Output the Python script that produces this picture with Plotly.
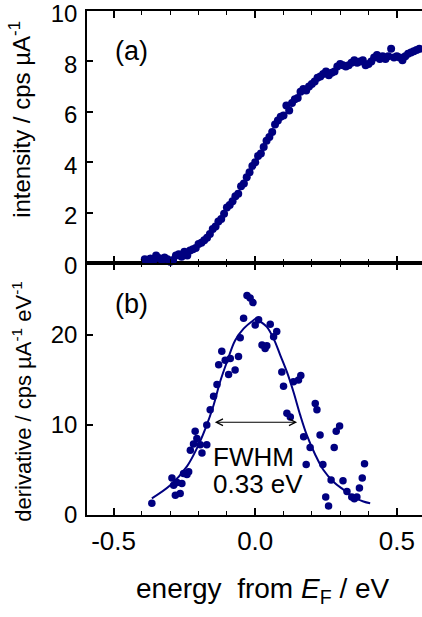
import plotly.graph_objects as go

# ---- data ----
top_x = [-0.39, -0.38, -0.37, -0.36, -0.35, -0.34, -0.33, -0.32, -0.31, -0.30,
         -0.29, -0.28, -0.27, -0.26, -0.25, -0.24, -0.23, -0.22, -0.21, -0.20,
         -0.19, -0.18, -0.17, -0.16, -0.15, -0.14, -0.13, -0.12, -0.11, -0.10,
         -0.09, -0.08, -0.07, -0.06, -0.05, -0.04, -0.03, -0.02, -0.01, 0.00,
         0.01, 0.02, 0.03, 0.04, 0.05, 0.06, 0.07, 0.08, 0.09, 0.10,
         0.11, 0.12, 0.13, 0.14, 0.15, 0.16, 0.17, 0.18, 0.19, 0.20,
         0.21, 0.22, 0.23, 0.24, 0.25, 0.26, 0.27, 0.28, 0.29, 0.30,
         0.31, 0.32, 0.33, 0.34, 0.35, 0.36, 0.37, 0.38, 0.39, 0.40,
         0.41, 0.42, 0.43, 0.44, 0.45, 0.46, 0.47, 0.48, 0.49, 0.50,
         0.51, 0.52, 0.53, 0.54, 0.55, 0.56, 0.57, 0.58]
top_y = [0.15, 0.12, 0.18, 0.10, 0.30, 0.20, 0.12, 0.22, 0.15, 0.05,
         0.12, 0.30, 0.35, 0.25, 0.45, 0.30, 0.50, 0.55, 0.60, 0.75,
         0.80, 0.90, 1.00, 1.15, 1.35, 1.45, 1.65, 1.75, 1.95, 2.20,
         2.30, 2.45, 2.65, 2.75, 3.05, 3.15, 3.40, 3.60, 3.85, 4.00,
         4.25, 4.35, 4.60, 4.85, 5.00, 5.20, 5.50, 5.65, 5.80, 5.85,
         6.25, 6.05, 6.35, 6.50, 6.55, 6.80, 6.90, 6.85, 7.00, 7.10,
         7.20, 7.35, 7.40, 7.50, 7.60, 7.45, 7.55, 7.60, 7.80, 7.90,
         7.85, 7.80, 7.85, 7.95, 8.05, 7.95, 8.00, 8.05, 7.85, 7.90,
         8.00, 8.15, 8.25, 8.10, 8.20, 8.10, 8.20, 8.50, 8.15, 8.20,
         8.15, 8.05, 8.20, 8.30, 8.35, 8.40, 8.45, 8.50]

deriv_x = [-0.365, -0.294, -0.288, -0.282, -0.276, -0.265, -0.259, -0.253, -0.241, -0.235,
           -0.229, -0.218, -0.212, -0.206, -0.194, -0.188, -0.171, -0.171, -0.159, -0.147,
           -0.135, -0.129, -0.118, -0.106, -0.094, -0.088, -0.071, -0.059, -0.053, -0.041,
           -0.029, -0.018, -0.008, 0.000, 0.012, 0.024, 0.035, 0.041, 0.053, 0.065,
           0.076, 0.094, 0.100, 0.112, 0.124, 0.135, 0.153, 0.161, 0.171, 0.180,
           0.194, 0.212, 0.218, 0.229, 0.239, 0.249, 0.259, 0.268, 0.279, 0.286,
           0.298, 0.310, 0.324, 0.341, 0.350, 0.359, 0.368, 0.378, 0.386]
deriv_y = [1.3, 4.1, 3.3, 2.2, 3.6, 2.4, 3.5, 4.6, 4.5, 4.8,
           7.2, 7.9, 9.3, 8.5, 7.8, 6.9, 7.8, 10.0, 11.7, 13.2,
           14.5, 16.7, 18.2, 17.2, 15.6, 17.4, 16.1, 17.6, 19.7, 21.85,
           24.4, 24.1, 23.6, 21.1, 21.7, 18.9, 18.5, 18.8, 21.2, 19.8,
           20.4, 15.9, 14.3, 11.3, 10.9, 14.8, 15.0, 15.5, 8.7, 5.6,
           7.5, 12.4, 11.7, 8.9, 5.6, 2.0, 1.0, 3.9, 7.5, 9.3,
           9.9, 3.8, 2.6, 2.0, 1.8, 2.0, 3.0, 4.1, 5.7]

fit_x = [-0.365, -0.300, -0.241, -0.206, -0.176, -0.147, -0.124, -0.100, -0.071, -0.041,
         -0.012, 0.006, 0.018, 0.041, 0.065, 0.088, 0.112, 0.135, 0.159, 0.182,
         0.212, 0.241, 0.276, 0.312, 0.347, 0.382, 0.406]
fit_y = [1.85, 3.3, 5.4, 7.4, 9.6, 12.2, 14.8, 17.0, 19.4, 20.7,
         21.5, 21.85, 21.5, 20.9, 19.6, 17.8, 15.9, 13.7, 11.1, 8.9,
         6.7, 5.0, 3.7, 2.8, 2.0, 1.5, 1.3]

fwhm_left, fwhm_right, half_max = -0.148, 0.148, 10.3

x_tickvals = [-0.5, 0.0, 0.5]
x_ticktext = ["-0.5", "0.0", "0.5"]
top_tickvals = [0, 2, 4, 6, 8, 10]
bottom_tickvals = [0, 10, 20]

# ---- styling ----
navy = "#000080"
font_family = "Liberation Sans, Arial, sans-serif"

fig = go.Figure()
fig.add_trace(go.Scatter(x=top_x, y=top_y, mode="markers", xaxis="x2", yaxis="y2",
                         marker=dict(color=navy, size=8), showlegend=False, cliponaxis=False))
fig.add_trace(go.Scatter(x=deriv_x, y=deriv_y, mode="markers", xaxis="x", yaxis="y",
                         marker=dict(color=navy, size=7.5), showlegend=False))
fig.add_trace(go.Scatter(x=fit_x, y=fit_y, mode="lines", xaxis="x", yaxis="y",
                         line=dict(color=navy, width=2, shape="spline"), showlegend=False))

xcommon = dict(range=[-0.594, 0.589], tickvals=x_tickvals, ticktext=x_ticktext,
               ticks="inside", ticklen=7, tickwidth=1.5, tickcolor="black",
               minor=dict(dtick=0.1, tick0=0, ticks="inside", ticklen=4, tickwidth=1.2,
                          tickcolor="black"),
               showline=True, linewidth=1.5, linecolor="black", mirror="ticks",
               showgrid=False, zeroline=False, automargin=False)
ycommon = dict(ticks="inside", ticklen=6, tickwidth=1.5, tickcolor="black",
               showline=True, linewidth=1.5, linecolor="black",
               showgrid=False, zeroline=False, automargin=False,
               ticklabeloverflow="allow",
               tickfont=dict(size=24, color="black", family=font_family),
               ticklabelstandoff=3)

fig.update_layout(
    width=422, height=617,
    margin=dict(l=87, r=0, t=11, b=102, autoexpand=False),
    paper_bgcolor="white", plot_bgcolor="white",
    font=dict(family=font_family, color="black"),
    xaxis=dict(anchor="y", domain=[0, 1], tickfont=dict(size=26, color="black", family=font_family),
               ticklabelstandoff=2, ticklabeloverflow="allow", **xcommon),
    xaxis2=dict(anchor="y2", domain=[0, 1], matches="x", showticklabels=False, **xcommon),
    yaxis=dict(anchor="x", domain=[0, 0.5], range=[0, 28], tickvals=bottom_tickvals, **ycommon),
    yaxis2=dict(anchor="x2", domain=[0.5, 1], range=[0, 10.0001], tickvals=top_tickvals,
                ticklabelshift=3, **ycommon),
)

ann = []
ann.append(dict(text="intensity / cps µA<sup>-1</sup>", textangle=-90, xref="paper", yref="paper",
                x=-0.200, y=0.784, xanchor="center", yanchor="middle", showarrow=False,
                font=dict(size=24)))
ann.append(dict(text="derivative / cps µA<sup>-1</sup> eV<sup>-1</sup>", textangle=-90,
                xref="paper", yref="paper", x=-0.195, y=0.226, xanchor="center",
                yanchor="middle", showarrow=False, font=dict(size=22)))
ann.append(dict(text="energy&nbsp; from <i>E</i><sub>F</sub> / eV", xref="paper", yref="paper",
                x=0.525, y=-0.149, xanchor="center", yanchor="middle", showarrow=False,
                font=dict(size=28)))
ann.append(dict(text="(a)", xref="x2", yref="y2", x=-0.436, y=8.41, showarrow=False,
                xanchor="center", yanchor="middle", font=dict(size=27)))
ann.append(dict(text="(b)", xref="x", yref="y", x=-0.436, y=23.5, showarrow=False,
                xanchor="center", yanchor="middle", font=dict(size=27)))
ann.append(dict(text="FWHM", xref="x", yref="y", x=-0.155, y=6.4, showarrow=False,
                xanchor="left", yanchor="middle", font=dict(size=26)))
ann.append(dict(text="0.33 eV", xref="x", yref="y", x=-0.155, y=3.44, showarrow=False,
                xanchor="left", yanchor="middle", font=dict(size=26)))
ann.append(dict(text="", xref="x", yref="y", x=fwhm_right, y=half_max,
                axref="x", ayref="y", ax=fwhm_left, ay=half_max,
                showarrow=True, arrowside="end+start", arrowhead=5, arrowsize=1.2,
                arrowwidth=1.1, arrowcolor="black", standoff=0, startstandoff=0))
fig.update_layout(annotations=ann)

fig.write_html("out.html", config={"displayModeBar": False},
               post_script="document.body.style.margin='0';")
